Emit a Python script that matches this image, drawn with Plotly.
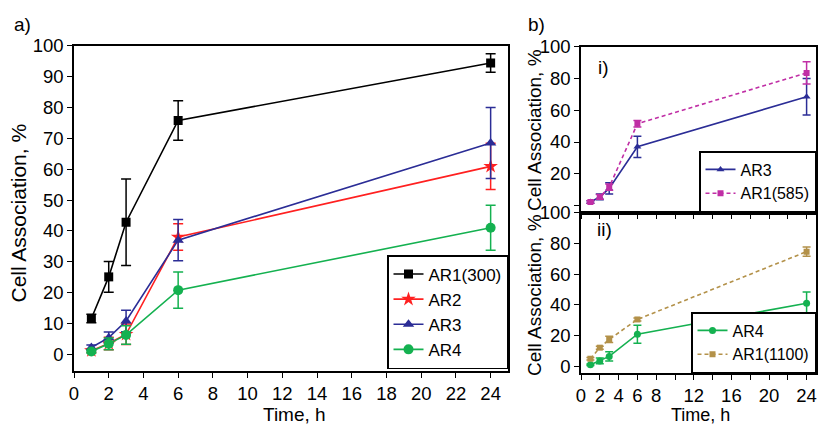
import plotly.graph_objects as go

# ---------------- data ----------------
time_h = [1, 2, 3, 6, 24]

ar1_300 = [11.6, 25.1, 42.8, 75.8, 94.4]
ar1_300_err = [1.4, 5.0, 14.0, 6.4, 3.0]
ar2 = [1.2, 3.5, 6.5, 38.0, 60.9]
ar2_err = [0.6, 2.0, 3.3, 4.3, 7.5]
ar3 = [2.2, 5.4, 10.8, 37.0, 68.5]
ar3_err = [0.8, 1.8, 3.5, 6.7, 11.5]
ar4 = [0.9, 3.4, 6.3, 20.8, 41.0]
ar4_err = [0.5, 1.9, 3.0, 5.9, 7.3]

ar1_585 = [2.2, 5.4, 11.6, 51.5, 83.5]
ar1_585_err = [0.8, 1.5, 2.0, 2.0, 7.0]
ar1_1100 = [4.8, 12.0, 17.4, 30.4, 74.6]
ar1_1100_err = [0.8, 1.0, 2.0, 1.0, 3.0]

left_xticks = list(range(0, 25, 2))
right_xticks = list(range(0, 25, 2))
right_xticktext = ["0", "2", "4", "6", "8", "", "12", "", "16", "", "20", "", "24"]
left_yticks = list(range(0, 101, 10))
right_yticks = [0, 20, 40, 60, 80, 100]
top_yticktext = ["", "20", "40", "60", "80", "100"]
bot_yticktext = ["0", "20", "40", "60", "80", "100"]

BLACK = "#000000"
RED = "#ff2020"
BLUE = "#2b2d96"
GREEN = "#14b150"
MAGENTA = "#c02ea5"
TAN = "#b39149"
FONT = "Liberation Sans, Arial, sans-serif"

W, H = 818, 427


def px(x):
    return x / W


def py(y):
    return 1 - y / H


fig = go.Figure()


def add(x, y, err, name, color, symbol, size, xa, ya, legend, dash="solid", lw=1.6, cap=5):
    fig.add_trace(go.Scatter(
        x=x, y=y, name=name, mode="lines+markers",
        line=dict(color=color, width=lw, dash=dash),
        marker=dict(color=color, symbol=symbol, size=size, line=dict(width=0)),
        error_y=dict(type="data", array=err, visible=True, color=color, thickness=1.5, width=cap),
        xaxis=xa, yaxis=ya, legend=legend,
    ))


# left panel
add(time_h, ar1_300, ar1_300_err, "AR1(300)", BLACK, "square", 9, "x", "y", "legend")
add(time_h, ar2, ar2_err, "AR2", RED, "star", 11, "x", "y", "legend")
add(time_h, ar3, ar3_err, "AR3", BLUE, "triangle-up", 10, "x", "y", "legend")
add(time_h, ar4, ar4_err, "AR4", GREEN, "circle", 10, "x", "y", "legend")

# right top
add(time_h, ar3, ar3_err, "AR3", BLUE, "triangle-up", 7, "x2", "y2", "legend2", cap=4)
add(time_h, ar1_585, ar1_585_err, "AR1(585)", MAGENTA, "square", 6, "x2", "y2", "legend2",
    dash="4px,3px", cap=4)

# right bottom
add(time_h, ar4, ar4_err, "AR4", GREEN, "circle", 7, "x3", "y3", "legend3", cap=4)
add(time_h, ar1_1100, ar1_1100_err, "AR1(1100)", TAN, "square", 6, "x3", "y3", "legend3",
    dash="4px,3px", cap=4)

axis_common = dict(
    showline=True, linecolor="black", linewidth=1.5, mirror=True,
    ticks="outside", ticklen=5, tickwidth=1.3, tickcolor="black",
    showgrid=False, zeroline=False, automargin=False,
    tickfont=dict(family=FONT, size=18.5, color="black"),
)

left_x = [px(74), px(508)]
right_x = [px(581), px(816)]

legend_common = dict(bordercolor="black", borderwidth=1.5, bgcolor="white",
                     itemwidth=30, tracegroupgap=0, xref="container", yref="container")

fig.update_layout(
    width=W, height=H,
    autosize=False,
    margin=dict(l=0, r=0, t=0, b=0, pad=0, autoexpand=False),
    paper_bgcolor="white", plot_bgcolor="white",
    font=dict(family=FONT, color="black"),
    xaxis=dict(domain=left_x, range=[0, 25], tickvals=left_xticks, anchor="y", **axis_common),
    yaxis=dict(domain=[py(371), py(45.7)], range=[-5.4, 100], tickvals=left_yticks,
               anchor="x", **axis_common),
    xaxis2=dict(domain=right_x, range=[0, 25], tickvals=right_xticks, showticklabels=False,
                anchor="y2", **axis_common),
    yaxis2=dict(domain=[py(212.7), py(46.7)], range=[-4.5, 100], tickvals=right_yticks,
                ticktext=top_yticktext, anchor="x2", **axis_common),
    xaxis3=dict(domain=right_x, range=[0, 25], tickvals=right_xticks, ticktext=right_xticktext,
                anchor="y3", **axis_common),
    yaxis3=dict(domain=[py(373), py(212.7)], range=[-4.5, 100], tickvals=right_yticks,
                ticktext=bot_yticktext, anchor="x3", **axis_common),
    legend=dict(x=px(508), xanchor="right", y=py(369), yanchor="bottom",
                font=dict(family=FONT, size=17, color="black"), **legend_common),
    legend2=dict(x=px(816), xanchor="right", y=py(212), yanchor="bottom",
                 font=dict(family=FONT, size=16, color="black"), **legend_common),
    legend3=dict(x=px(816), xanchor="right", y=py(373), yanchor="bottom",
                 font=dict(family=FONT, size=16, color="black"), **legend_common),
    showlegend=True,
)

ann = [
    dict(text="a)", x=px(12), y=py(25), xanchor="left", yanchor="middle", size=19, angle=0),
    dict(text="b)", x=px(526), y=py(25), xanchor="left", yanchor="middle", size=19, angle=0),
    dict(text="i)", x=px(596), y=py(68), xanchor="left", yanchor="middle", size=19, angle=0),
    dict(text="ii)", x=px(595), y=py(229), xanchor="left", yanchor="middle", size=19, angle=0),
    dict(text="Cell Association, %", x=px(17.5), y=py(213), xanchor="center", yanchor="middle",
         size=21, angle=-90),
    dict(text="Time, h", x=px(294), y=py(414), xanchor="center", yanchor="middle", size=19, angle=0),
    dict(text="Cell Association, %", x=px(534), y=py(130), xanchor="center", yanchor="middle",
         size=19, angle=-90),
    dict(text="Cell Association, %", x=px(534), y=py(295), xanchor="center", yanchor="middle",
         size=19, angle=-90),
    dict(text="Time, h", x=px(700), y=py(415), xanchor="center", yanchor="middle", size=18, angle=0),
]
for a in ann:
    fig.add_annotation(text=a["text"], x=a["x"], y=a["y"], xref="paper", yref="paper",
                       xanchor=a["xanchor"], yanchor=a["yanchor"], showarrow=False,
                       textangle=a["angle"], font=dict(family=FONT, size=a["size"], color="black"))

fig.write_html("out.html", config={"displayModeBar": False},
               post_script="document.body.style.margin='0';document.body.style.padding='0';")
